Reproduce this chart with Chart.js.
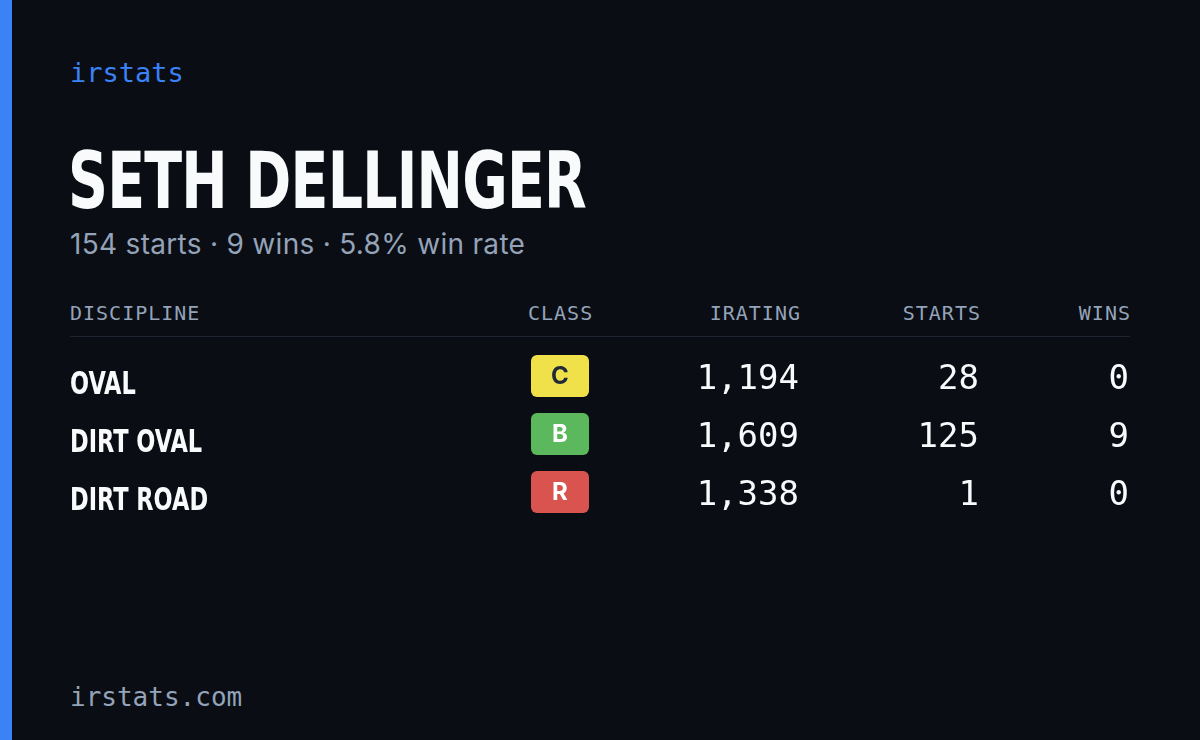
<!DOCTYPE html>
<html><head><meta charset="utf-8">
<script src="https://cdn.jsdelivr.net/npm/chart.js@4"></script>
<style>
  body{margin:0;width:1200px;height:740px;background:#0a0d14;overflow:hidden;position:relative;font-family:Inter,sans-serif}
  .bar{position:absolute;left:0;top:0;width:12px;height:740px;background:#3b82f6}
  .brand{position:absolute;left:70px;top:57px;font:500 27px "DejaVu Sans Mono",monospace;color:#3b82f6}
  h1{position:absolute;left:68px;top:136px;margin:0;font:bold 78px "DejaVu Sans Condensed",sans-serif;color:#f8fafc;letter-spacing:-1px;transform:scaleX(0.79);transform-origin:left}
  .sub{position:absolute;left:70px;top:227px;font:28px Inter,sans-serif;color:#94a3b8;letter-spacing:0.3px}
  .hd{position:absolute;top:301px;font:20px "DejaVu Sans Mono",monospace;color:#94a3b8;letter-spacing:1px}
  .rule{position:absolute;left:70px;width:1060px;top:336px;height:1px;background:#1e2430}
  .foot{position:absolute;left:70px;top:682px;font:26px "DejaVu Sans Mono",monospace;color:#94a3b8}
  #wrap{position:absolute;left:0;top:351px;width:1200px;height:174px}
</style></head><body>
<div class="bar"></div>
<div class="brand">irstats</div>
<h1>SETH DELLINGER</h1>
<div class="sub">154 starts · 9 wins · 5.8% win rate</div>
<div class="hd" style="left:70px">DISCIPLINE</div>
<div class="hd" style="left:528px">CLASS</div>
<div class="hd" style="right:399px">IRATING</div>
<div class="hd" style="right:219px">STARTS</div>
<div class="hd" style="right:69px">WINS</div>
<div class="rule"></div>
<div class="foot">irstats.com</div>
<div id="wrap"><canvas id="c"></canvas></div>
<script>
const disciplines = ["OVAL", "DIRT OVAL", "DIRT ROAD"];
const classes = ["C", "B", "R"];
const iratings = [1194, 1609, 1338];
const starts = [28, 125, 1];
const wins = [0, 9, 0];
const classColors = { C: "#f0e14a", B: "#5cb85c", R: "#d9534f" };
const classText = { C: "#1f2937", B: "#ffffff", R: "#ffffff" };

const tablePlugin = {
  id: "table",
  afterDraw(chart) {
    const ctx = chart.ctx;
    const y = chart.scales.y;
    ctx.save();
    ctx.textBaseline = "middle";
    disciplines.forEach((d, i) => {
      const py = y.getPixelForValue(i);
      ctx.fillStyle = "#f8fafc";
      ctx.textAlign = "left";
      ctx.font = "bold 32px 'DejaVu Sans Condensed', sans-serif";
      ctx.save();
      ctx.translate(70, py + 6);
      ctx.scale(0.78, 1);
      ctx.fillText(d, 0, 0);
      ctx.restore();
      // class badge
      const c = classes[i];
      ctx.fillStyle = classColors[c];
      ctx.beginPath();
      ctx.roundRect(531, py - 25, 58, 42, 6);
      ctx.fill();
      ctx.fillStyle = classText[c];
      ctx.textAlign = "center";
      ctx.font = "bold 24px Inter, sans-serif";
      ctx.fillText(c, 560, py - 3);
      // numbers
      ctx.fillStyle = "#f8fafc";
      ctx.textAlign = "right";
      ctx.font = "34px 'DejaVu Sans Mono', monospace";
      ctx.fillText(iratings[i].toLocaleString("en-US"), 799, py);
      ctx.fillText(String(starts[i]), 979, py);
      ctx.fillText(String(wins[i]), 1129, py);
    });
    ctx.restore();
  }
};

new Chart(document.getElementById("c"), {
  type: "bar",
  data: { labels: disciplines, datasets: [{ data: iratings, backgroundColor: "transparent" }] },
  options: {
    indexAxis: "y",
    responsive: true,
    maintainAspectRatio: false,
    animation: false,
    events: [],
    plugins: { legend: { display: false }, tooltip: { enabled: false } },
    scales: { x: { display: false }, y: { display: false } },
    layout: { padding: 0 }
  },
  plugins: [tablePlugin]
});
</script>
</body></html>
